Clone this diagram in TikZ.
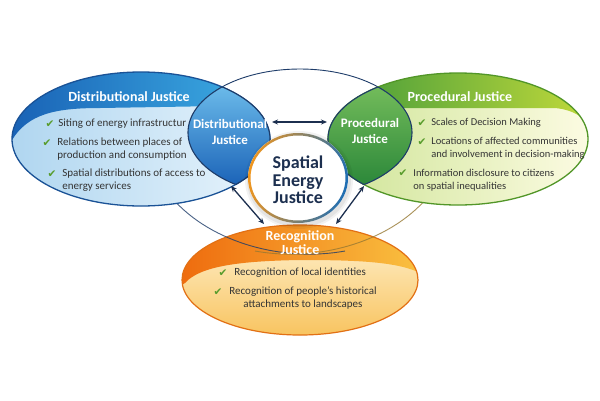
\documentclass[tikz,border=0pt]{standalone}
\usepackage{fontspec}
\setmainfont{Carlito}
\newfontfamily\symfont{DejaVu Sans}
\usetikzlibrary{arrows.meta}

\definecolor{navy}{RGB}{28,47,79}
\definecolor{lensline}{RGB}{30,60,105}
\definecolor{textgray}{RGB}{52,52,52}
\definecolor{tickgreen}{RGB}{88,156,44}
\definecolor{blueedge}{RGB}{26,82,150}
\definecolor{bluedark}{RGB}{24,96,180}
\definecolor{bluelight}{RGB}{64,180,232}
\definecolor{bluebodyA}{RGB}{176,214,240}
\definecolor{bluebodyB}{RGB}{232,244,252}
\definecolor{bluelensA}{RGB}{28,100,184}
\definecolor{bluelensB}{RGB}{110,190,236}
\definecolor{greenedge}{RGB}{82,150,40}
\definecolor{greendark}{RGB}{58,150,58}
\definecolor{greenlight}{RGB}{198,220,58}
\definecolor{greenbodyA}{RGB}{206,228,150}
\definecolor{greenbodyB}{RGB}{252,251,226}
\definecolor{greenlensA}{RGB}{44,136,58}
\definecolor{greenlensB}{RGB}{118,190,92}
\definecolor{orangeedge}{RGB}{226,112,20}
\definecolor{orangedark}{RGB}{238,104,12}
\definecolor{orangelight}{RGB}{250,196,66}
\definecolor{orangebodyA}{RGB}{255,244,214}
\definecolor{orangebodyB}{RGB}{248,196,96}
\definecolor{ringorange}{RGB}{240,150,30}
\definecolor{ringgreen}{RGB}{120,176,60}
\definecolor{ringblue}{RGB}{30,110,180}

\tikzset{every picture/.style={line width=0.75pt}}
\tikzset{
  bluecardpath/.style={insert path={(141,139) ellipse [x radius=129, y radius=67]}},
  greencardpath/.style={insert path={(458,139) ellipse [x radius=130, y radius=66]}},
  orangecardpath/.style={insert path={(300,280) ellipse [x radius=118, y radius=55]}},
  rimpath/.style={insert path={(300,132.5) ellipse [x radius=112, y radius=63.5]}},
}

\begin{document}
\begin{tikzpicture}[x=1pt,y=1pt,yscale=-1,xscale=1,
  item/.style={text=textgray, font=\fontsize{11}{13}\selectfont, align=left, inner sep=0pt, anchor=west},
  tick/.style={text=tickgreen, font=\symfont\fontsize{10.5}{10.5}\selectfont, inner sep=0pt},
  bandlabel/.style={text=white, font=\bfseries\fontsize{14}{14}\selectfont, align=center, inner sep=0pt},
  lenslabel/.style={text=white, font=\bfseries\fontsize{13}{16}\selectfont, align=center, inner sep=0pt},
  arrowlink/.style={{Stealth[length=6pt,width=5pt]}-{Stealth[length=6pt,width=5pt]}, color=navy, line width=1.3pt}]
  \useasboundingbox [fill=white] (0,0) rectangle (600,400);

  % upper rim of the middle ring
  \begin{scope}
    \clip (0,0) rectangle (600,132.5);
    \draw [color=lensline, line width=0.9pt] [rimpath];
  \end{scope}

  % recognition card
  \shade [top color=orangebodyA, bottom color=orangebodyB] [orangecardpath];
  \begin{scope}
    \clip [orangecardpath];
    \shade [left color=orangedark, right color=orangelight] (170,215) -- (170,292) -- (185,283) .. controls (200,266) and (240,261) .. (300,260) .. controls (360,260) and (400,262) .. (422,274) -- (430,215) -- cycle;
  \end{scope}
  \draw [color=orangeedge, line width=1.2pt] [orangecardpath];

  % lower rims
  \draw [color=lensline, line width=0.9pt, opacity=0.8] (172,198) .. controls (212,244) and (285,262) .. (345,251);
  \draw [color={rgb, 255:red, 150; green, 120; blue, 50}, line width=0.9pt, opacity=0.8] (427,198) .. controls (387,244) and (315,262) .. (255,251);

  % distributional card
  \shade [left color=bluebodyA, right color=bluebodyB] [bluecardpath];
  \begin{scope}
    \clip [bluecardpath];
    \shade [left color=bluedark, right color=bluelight] (5,150) -- (12,140) .. controls (28,114) and (55,108) .. (100,108) -- (280,105) -- (280,60) -- (5,60) -- cycle;
  \end{scope}
  \draw [color=blueedge, line width=1.3pt] [bluecardpath];

  % procedural card
  \shade [left color=greenbodyA, right color=greenbodyB] [greencardpath];
  \begin{scope}
    \clip [greencardpath];
    \shade [left color=greendark, right color=greenlight] (320,60) -- (320,108) -- (555,108) .. controls (575,110) and (586,118) .. (596,135) -- (600,60) -- cycle;
  \end{scope}
  \draw [color=greenedge, line width=1.3pt] [greencardpath];

  % lenses
  \begin{scope}
    \clip [bluecardpath];
    \clip [rimpath];
    \shade [top color=bluelensB, bottom color=bluelensA] (186,82) rectangle (274,184);
  \end{scope}
  \begin{scope}
    \clip [bluecardpath];
    \draw [color=lensline, line width=1.1pt] [rimpath];
  \end{scope}
  \begin{scope}
    \clip [rimpath];
    \draw [color=lensline, line width=1.1pt] [bluecardpath];
  \end{scope}

  \begin{scope}
    \clip [greencardpath];
    \clip [rimpath];
    \shade [top color=greenlensB, bottom color=greenlensA] (326,82) rectangle (414,184);
  \end{scope}
  \begin{scope}
    \clip [greencardpath];
    \draw [color=lensline, line width=1.1pt] [rimpath];
  \end{scope}
  \begin{scope}
    \clip [rimpath];
    \draw [color=lensline, line width=1.1pt] [greencardpath];
  \end{scope}

  % centre
  \fill [black, opacity=0.05] (299,180) ellipse [x radius=54, y radius=49];
  \fill [black, opacity=0.06] (299,180) ellipse [x radius=52, y radius=47];
  \fill [white] (298,178) ellipse [x radius=50, y radius=45];
  \shade [even odd rule, left color=ringorange, middle color=ringgreen, right color=ringblue, shading angle=80] (298,178) ellipse [x radius=50, y radius=45] (298,178) ellipse [x radius=47.5, y radius=42.5];
  \node (core) at (298,180) [text=navy, font=\bfseries\fontsize{18}{17.5}\selectfont, align=center, inner sep=0pt] {Spatial\\Energy\\Justice};

  % links
  \coordinate (distR) at (272,122);
  \coordinate (procL) at (327,122);
  \coordinate (distB) at (231,186);
  \coordinate (recoL) at (264,224);
  \coordinate (procB) at (364,186);
  \coordinate (recoR) at (336,224);
  \draw [arrowlink] (distR) -- (procL);
  \draw [arrowlink] (distB) -- (recoL);
  \draw [arrowlink] (procB) -- (recoR);

  % labels
  \node (distband) at (129,97) [bandlabel] {Distributional Justice};
  \node (procband) at (460,97) [bandlabel] {Procedural Justice};
  \node (recoband) at (300,243) [bandlabel] {Recognition\\Justice};
  \node (distlens) at (230,132) [lenslabel] {Distributional\\Justice};
  \node (proclens) at (370,131) [lenslabel] {Procedural\\Justice};

  % distributional items
  \node (dt1) at (50,124) [tick] {✔};
  \node (di1) at (58,124) [item] {Siting of energy infrastructur};
  \node (dt2) at (47,143) [tick] {✔};
  \node (di2) at (57,149.5) [item] {Relations between places of\\production and consumption};
  \node (dt3) at (52,174) [tick] {✔};
  \node (di3) at (62,180.5) [item] {Spatial distributions of access to\\energy services};

  % procedural items
  \node (pt1) at (422,123) [tick] {✔};
  \node (pi1) at (431,123) [item, font=\fontsize{10.5}{13}\selectfont] {Scales of Decision Making};
  \node (pt2) at (422,142) [tick] {✔};
  \node (pi2) at (431,148.5) [item, font=\fontsize{10.5}{13}\selectfont] {Locations of affected communities\\and involvement in decision-making};
  \node (pt3) at (403,173) [tick] {✔};
  \node (pi3) at (413,180) [item, font=\fontsize{10.5}{13}\selectfont] {Information disclosure to citizens\\on spatial inequalities};

  % recognition items
  \node (rt1) at (223,273) [tick] {✔};
  \node (ri1) at (234,273) [item] {Recognition of local identities};
  \node (rt2) at (218,292) [tick] {✔};
  \node (ri2) at (229,298.5) [item, align=center] {Recognition of people’s historical\\attachments to landscapes};

\end{tikzpicture}
\end{document}
